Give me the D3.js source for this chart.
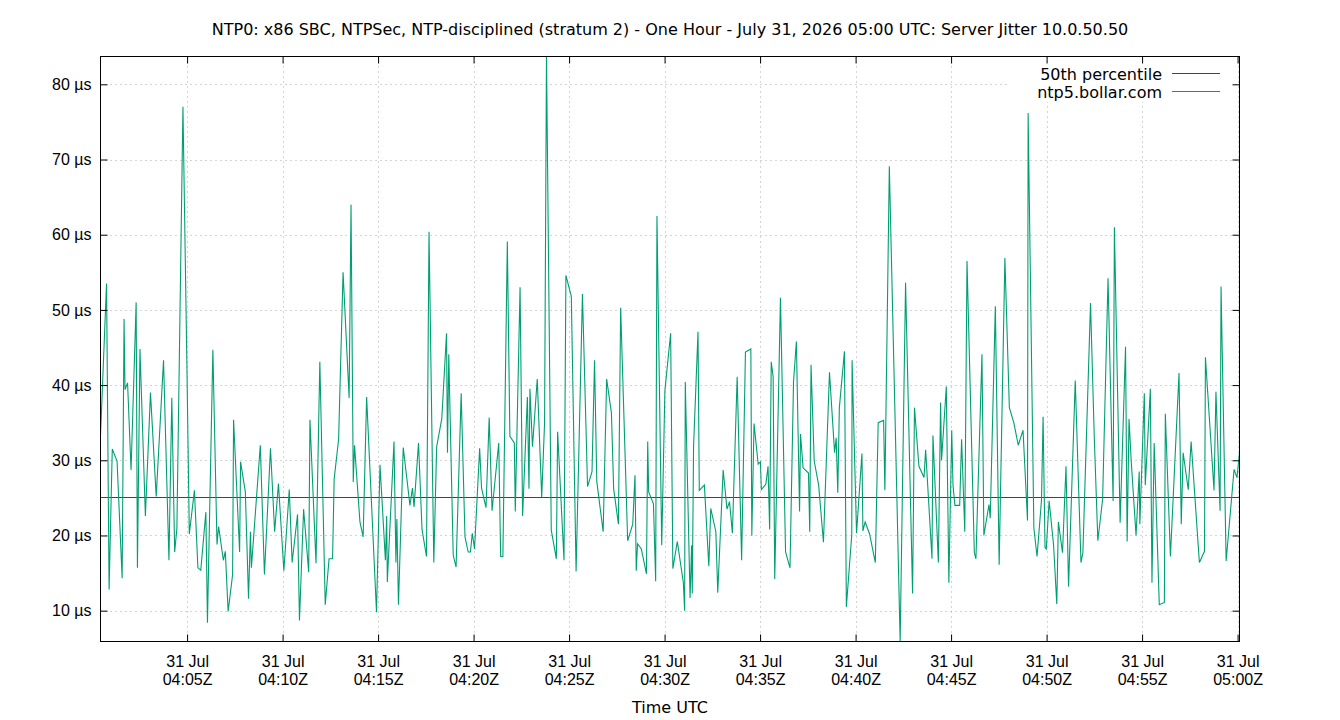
<!DOCTYPE html>
<html>
<head>
<meta charset="utf-8">
<script src="https://cdn.jsdelivr.net/npm/d3@7"></script>
<style>
  body { margin: 0; background: #fff; }
  svg { display: block; font-family: "DejaVu Sans", sans-serif; }
</style>
</head>
<body>
<div id="chart"></div>
<script>
// Chart text
const chartTitle = "NTP0: x86 SBC, NTPSec, NTP-disciplined (stratum 2) - One Hour - July 31, 2026 05:00 UTC: Server Jitter 10.0.50.50";
const seriesNames = ["50th percentile", "ntp5.bollar.com"];
const xAxisLabel = "Time UTC";

// Sample times, seconds after 2026-07-31 04:00:00 UTC
const startTime = "2026-07-31T04:00:00Z";
const offsetSecs = [
  28, 47, 55, 65, 80, 96, 102, 105, 113, 124, 140, 144, 152, 169, 185, 203, 226, 243, 252, 261, 268, 287, 299, 307, 323, 334, 343,
  359, 364, 381, 394, 399, 414, 420, 429, 443, 446, 465, 468, 483, 493, 499, 502, 530, 543, 562, 575, 587, 604, 621, 630, 647, 653, 666,
  682, 686, 705, 717, 734, 746, 757, 762, 776, 790, 809, 815, 822, 826, 843, 853, 864, 895, 906, 923, 927, 929, 950, 956, 959, 964, 979, 993,
  1000, 1008, 1013, 1027, 1038, 1052, 1060, 1075, 1084, 1100, 1115, 1118, 1122, 1136, 1145, 1161, 1173, 1183, 1190, 1196, 1203, 1219, 1225, 1239, 1249, 1258, 1279, 1285, 1292, 1306, 1314, 1328,
  1331, 1346, 1354, 1369, 1374, 1377, 1385, 1400, 1414, 1423, 1429, 1444, 1460, 1464, 1484, 1490, 1507, 1522, 1542, 1558, 1572, 1580, 1587, 1607, 1618, 1633, 1640, 1655,
  1662, 1684, 1700, 1707, 1711, 1715, 1727, 1743, 1747, 1750, 1765, 1772, 1776, 1791, 1801, 1819, 1826, 1840, 1859, 1863, 1865, 1880, 1885, 1887, 1891, 1905, 1909, 1925, 1939, 1945, 1961, 1967, 1984,
  1996, 2004, 2013, 2028, 2042, 2054, 2071, 2074, 2081, 2094, 2101, 2104, 2118, 2125, 2130, 2135, 2141, 2146, 2164, 2180, 2194, 2205, 2214, 2224, 2227, 2235, 2252, 2256, 2260, 2270, 2284, 2299,
  2318, 2334, 2339, 2344, 2349, 2365, 2371, 2388, 2389, 2403, 2420, 2423, 2430, 2444, 2462, 2471, 2488, 2492, 2506, 2540, 2557, 2579, 2585, 2599, 2615, 2620,
  2640, 2643, 2660, 2667, 2670, 2685, 2693, 2702, 2706, 2712, 2727, 2733, 2743, 2750, 2773, 2778, 2797, 2803, 2819, 2823, 2839, 2851, 2869, 2883, 2897, 2911, 2926, 2940, 2942, 2960,
  2970, 2984, 2989, 2995, 2999, 3008, 3022, 3032, 3037, 3050, 3061, 3069, 3090, 3108, 3114, 3138, 3150, 3161, 3176, 3193, 3209, 3213, 3231, 3248, 3253, 3259, 3266, 3281, 3291,
  3293, 3307, 3310, 3326, 3331, 3338, 3354, 3370, 3373, 3389, 3416, 3423, 3429, 3445, 3454, 3480, 3496, 3499, 3526, 3532, 3545, 3548, 3564, 3571, 3589, 3598, 3606
];

// Server jitter, microseconds
const jitterUs = [
  33.3, 53.5, 12.8, 31.5, 29.9, 14.3, 48.8, 39.4, 40.3, 28.7, 51.0, 15.7, 44.8, 22.6, 39.0, 25.2, 43.3, 16.7, 38.3, 17.8, 21.0, 77.0, 43.8, 20.2, 26.0, 15.7, 15.4,
  23.1, 8.4, 44.7, 18.8, 21.2, 16.7, 17.9, 9.9, 14.8, 35.4, 17.8, 29.8, 25.8, 11.6, 20.5, 15.7, 32.0, 14.8, 31.6, 20.5, 26.9, 15.3, 26.1, 16.4, 22.8, 8.7, 23.5,
  15.1, 35.4, 16.3, 43.1, 10.8, 16.9, 16.9, 27.5, 32.8, 55.0, 38.3, 64.0, 27.1, 32.0, 21.8, 19.8, 38.4, 9.8, 29.4, 16.7, 22.6, 13.8, 32.5, 16.4, 22.2, 10.8, 31.7, 26.6,
  24.0, 26.3, 23.8, 32.3, 20.8, 17.2, 60.4, 16.4, 31.8, 35.5, 46.9, 31.0, 44.1, 17.4, 15.8, 38.9, 19.8, 17.8, 17.8, 20.3, 18.2, 31.6, 26.3, 23.7, 35.7, 23.3, 32.3, 17.2, 17.2, 59.1, 33.2, 32.3,
  23.2, 53.0, 22.6, 38.4, 26.2, 39.5, 31.8, 40.8, 25.1, 35.0, 83.7, 20.7, 16.9, 33.8, 16.7, 54.6, 51.8, 15.2, 52.1, 26.5, 28.5, 43.3, 27.2, 20.5, 40.8, 36.3, 26.2, 21.5,
  50.3, 19.3, 21.5, 28.0, 15.3, 18.9, 18.2, 14.9, 32.5, 25.8, 24.2, 13.9, 62.5, 18.7, 39.3, 46.9, 15.6, 19.2, 13.7, 10.0, 40.4, 11.7, 18.7, 12.3, 31.8, 47.1, 26.0, 26.7, 15.9, 23.6, 20.5, 12.4, 28.7,
  23.5, 24.5, 20.3, 41.1, 16.7, 44.4, 44.8, 20.0, 34.9, 29.5, 29.8, 26.1, 26.8, 29.2, 20.8, 43.1, 41.1, 14.2, 51.6, 17.8, 15.7, 40.4, 45.8, 23.2, 33.5, 29.0, 28.3, 20.5, 42.7, 29.9, 26.7, 19.1,
  41.7, 31.0, 33.0, 25.7, 37.0, 44.5, 10.5, 20.1, 43.3, 20.3, 30.9, 20.6, 21.8, 20.2, 16.4, 35.0, 35.3, 26.0, 69.1, 5.9, 53.6, 12.3, 37.0, 29.2, 27.7, 31.4,
  16.9, 33.3, 16.4, 37.7, 30.0, 39.8, 13.7, 34.0, 26.7, 24.0, 24.0, 32.8, 20.5, 56.5, 17.7, 16.9, 44.1, 20.0, 24.1, 22.3, 50.5, 16.1, 56.9, 37.0, 35.0, 32.0, 34.0, 22.0, 76.2, 21.0,
  17.2, 24.7, 35.8, 18.4, 18.2, 24.6, 18.7, 10.9, 21.8, 17.7, 29.2, 13.2, 40.6, 16.4, 17.7, 50.9, 32.8, 19.3, 24.8, 54.2, 24.6, 61.0, 21.7, 45.1, 19.2, 35.5, 29.8, 20.0, 28.5,
  21.5, 38.9, 26.7, 39.5, 13.7, 32.3, 10.8, 11.1, 36.2, 17.2, 41.6, 21.5, 31.0, 26.1, 32.5, 16.4, 17.9, 43.7, 26.0, 39.1, 23.3, 53.1, 16.6, 20.0, 28.8, 27.7, 31.0
];

// 50th percentile of the hour, microseconds
const p50Us = 25.1;

// Tick values
const yTicks = [10, 20, 30, 40, 50, 60, 70, 80];
const xTickTimes = ["04:05", "04:10", "04:15", "04:20", "04:25", "04:30", "04:35", "04:40", "04:45", "04:50", "04:55", "05:00"];

const colorP50 = "#9400d3";
const colorJitter = "#009e73";
const fontSize = "16px";

const width = 1340, height = 720;
const plot = { left: 100.5, right: 1239.5, top: 56.5, bottom: 641.5 };

const t0 = new Date(startTime);
const data = offsetSecs.map((s, i) => ({ time: new Date(t0.getTime() + s * 1000), value: jitterUs[i] }));
const tickDates = xTickTimes.map(t => new Date("2026-07-31T" + t + ":00Z"));

const svg = d3.select("#chart").append("svg")
  .attr("width", width)
  .attr("height", height);

const x = d3.scaleUtc()
  .domain(d3.extent(data, d => d.time))
  .range([plot.left, plot.right]);

const y = d3.scaleLinear()
  .domain(d3.extent(data, d => d.value))
  .range([plot.bottom, plot.top]);

// Dotted grid
const grid = svg.append("g")
  .attr("stroke", "#a8a8a8")
  .attr("stroke-width", 1)
  .attr("stroke-dasharray", "1,4");
grid.selectAll(".gx").data(tickDates).join("line")
  .attr("x1", d => Math.round(x(d)) + 0.5).attr("x2", d => Math.round(x(d)) + 0.5)
  .attr("y1", plot.top).attr("y2", plot.bottom);
grid.selectAll(".gy").data(yTicks).join("line")
  .attr("x1", plot.left).attr("x2", plot.right)
  .attr("y1", d => Math.round(y(d)) + 0.5).attr("y2", d => Math.round(y(d)) + 0.5);

// Clip for the data
svg.append("clipPath").attr("id", "plot-clip")
  .append("rect")
  .attr("x", plot.left).attr("y", plot.top - 1)
  .attr("width", plot.right - plot.left).attr("height", plot.bottom - plot.top + 2);

// Median line
const yMed = Math.round(y(p50Us)) + 0.5;
svg.append("line")
  .attr("x1", plot.left).attr("x2", plot.right)
  .attr("y1", yMed).attr("y2", yMed)
  .attr("stroke", colorP50)
  .attr("stroke-width", 1);

// Jitter series
const line = d3.line()
  .x(d => x(d.time))
  .y(d => y(d.value));

svg.append("path")
  .datum(data)
  .attr("clip-path", "url(#plot-clip)")
  .attr("fill", "none")
  .attr("stroke", colorJitter)
  .attr("stroke-width", 1.1)
  .attr("d", line);

// Legend (opaque box hides grid behind it)
const legend = svg.append("g");
legend.append("rect")
  .attr("x", 1010).attr("y", 62)
  .attr("width", 222).attr("height", 40)
  .attr("fill", "#fff");
[colorP50, colorJitter].forEach((c, i) => {
  const ly = 73.5 + i * 18;
  legend.append("text")
    .attr("x", 1162).attr("y", ly + 6)
    .attr("text-anchor", "end")
    .style("font-size", fontSize)
    .attr("fill", "#000")
    .text(seriesNames[i]);
  legend.append("line")
    .attr("x1", 1172).attr("x2", 1220)
    .attr("y1", ly).attr("y2", ly)
    .attr("stroke", c).attr("stroke-width", 1);
});

// Axes with inward ticks
const fmtDay = d3.utcFormat("%d %b");
const fmtTime = d3.utcFormat("%H:%MZ");

const xAxis = svg.append("g")
  .attr("transform", `translate(0,${plot.bottom})`)
  .call(d3.axisBottom(x).tickValues(tickDates).tickSize(-7).tickFormat(""));
xAxis.select(".domain").remove();
xAxis.selectAll(".tick").each(function(d) {
  const t = d3.select(this).append("text")
    .attr("fill", "#000")
    .attr("text-anchor", "middle")
    .style("font-size", fontSize);
  t.append("tspan").attr("x", 0).attr("y", 25).text(fmtDay(d));
  t.append("tspan").attr("x", 0).attr("y", 43).text(fmtTime(d));
});

const xAxisTop = svg.append("g")
  .attr("transform", `translate(0,${plot.top})`)
  .call(d3.axisTop(x).tickValues(tickDates).tickSize(-7).tickFormat(""));
xAxisTop.select(".domain").remove();

const yAxis = svg.append("g")
  .attr("transform", `translate(${plot.left},0)`)
  .call(d3.axisLeft(y).tickValues(yTicks).tickSize(-7).tickPadding(9).tickFormat(d => d + " µs"));
yAxis.select(".domain").remove();
yAxis.selectAll("text").style("font-size", fontSize).attr("fill", "#000");

const yAxisRight = svg.append("g")
  .attr("transform", `translate(${plot.right},0)`)
  .call(d3.axisRight(y).tickValues(yTicks).tickSize(-7).tickFormat(""));
yAxisRight.select(".domain").remove();

svg.selectAll(".tick line").attr("stroke", "#000");

// Plot border
svg.append("rect")
  .attr("x", plot.left).attr("y", plot.top)
  .attr("width", plot.right - plot.left).attr("height", plot.bottom - plot.top)
  .attr("fill", "none")
  .attr("stroke", "#000")
  .attr("stroke-width", 1);

// Title and axis label
svg.append("text")
  .attr("x", width / 2).attr("y", 35)
  .attr("text-anchor", "middle")
  .style("font-size", fontSize)
  .text(chartTitle);

svg.append("text")
  .attr("x", (plot.left + plot.right) / 2).attr("y", 713)
  .attr("text-anchor", "middle")
  .style("font-size", fontSize)
  .text(xAxisLabel);
</script>
</body>
</html>
